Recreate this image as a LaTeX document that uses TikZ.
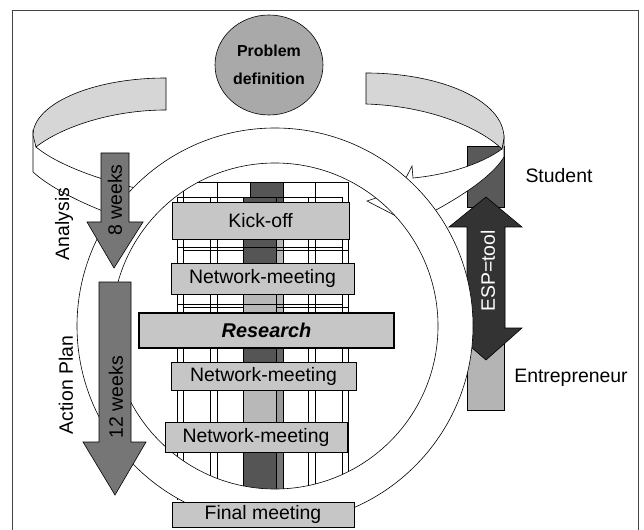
\documentclass[tikz,border=0pt]{standalone}
\usepackage{fontspec}
\setmainfont{Liberation Sans}
\usetikzlibrary{shapes.geometric}
\definecolor{boxgray}{HTML}{C6C6C6}
\definecolor{probgray}{HTML}{A9A9A9}
\definecolor{arrowgray}{HTML}{767676}
\definecolor{espdark}{HTML}{333333}
\definecolor{studentdark}{HTML}{595959}
\definecolor{entrgray}{HTML}{B4B4B4}
\definecolor{ribbongray}{HTML}{D6D6D6}
\definecolor{coldark}{HTML}{555555}
\definecolor{collight}{HTML}{B8B8B8}
\definecolor{colmid}{HTML}{9A9A9A}
\definecolor{bordergray}{HTML}{444444}
\begin{document}
\begin{tikzpicture}[x=1bp,y=-1bp,
  thin line/.style={line width=0.6bp, draw=black},
  boxnode/.style={draw=black, line width=0.6bp, fill=boxgray, inner sep=0pt,
     font=\fontsize{19.5}{22}\selectfont},
  lbl/.style={font=\fontsize{19.5}{22}\selectfont, inner sep=0pt},
  gridline/.style={line width=0.6bp, draw=black},
  weekarrow/.style={draw=black, line width=0.6bp, fill=arrowgray},
  ribbonback/.style={draw=black, line width=0.6bp, fill=ribbongray},
  ribbonfront/.style={draw=black, line width=0.6bp, fill=white}]
\clip (0,0) rectangle (644,530);
% frame
\draw[line width=0.8bp, draw=bordergray] (12,10) rectangle (638,560);
% problem definition
\node[ellipse, draw=black, line width=0.6bp, fill=probgray, minimum width=108bp,
  minimum height=100bp, inner sep=0pt, align=center,
  font=\fontsize{16}{28}\selectfont\bfseries] (prob) at (269,65) {Problem\\definition};
% student / entrepreneur bars
\draw[thin line, fill=studentdark] (467,146) rectangle (504,207);
\draw[thin line, fill=entrgray] (467,320) rectangle (504,410);
% ribbon, left piece
\draw[ribbonfront] (33,130) -- (33,172) .. controls (55,192) and (100,212) .. (140,224)
   -- (150,190) -- (140,189) .. controls (95,179) and (55,163) .. (36,147) -- cycle;
\draw[ribbonback] (166,78) .. controls (90,78) and (33,105) .. (33,135) -- (36,147)
   .. controls (60,128) and (110,110) .. (166,110) -- cycle;
% ribbon, right piece with arrowhead
\draw[ribbonfront] (504,135) -- (504,157) .. controls (490,180) and (450,203) .. (421,218)
   -- (427,232) -- (367,201) .. controls (400,190) .. (412,166) -- (413,178)
   .. controls (445,175) and (480,165) .. (502,149) -- cycle;
\draw[ribbonback] (366,73) .. controls (440,73) and (504,100) .. (504,138) -- (502,149)
   .. controls (480,128) and (430,106) .. (366,104) -- cycle;
% building grid, back layer
\fill[coldark] (250,182) rectangle (283,240);
\fill[collight] (250,240) rectangle (283,330);
\fill[coldark!90] (250,330) rectangle (283,375);
\fill[colmid] (250,375) rectangle (283,437);
\fill[arrowgray] (250,437) rectangle (283,500);
\foreach \x in {183,217,250,283,315,348} \draw[gridline] (\x,182) -- (\x,500);
\draw[gridline] (183,182) -- (348,182);
\draw[gridline] (183,250) -- (348,250);
\draw[gridline] (183,307) -- (348,307);
% building grid, front layer
\fill[coldark] (243,197) rectangle (276,280);
\fill[collight] (243,280) rectangle (276,330);
\fill[coldark] (243,330) rectangle (276,375);
\fill[collight] (243,375) rectangle (276,437);
\fill[coldark] (243,437) rectangle (276,500);
\foreach \x in {177,210,243,276,308,342} \draw[gridline] (\x,197) -- (\x,500);
\draw[gridline] (177,197) -- (342,197);
\draw[gridline] (177,247) -- (342,247);
\draw[gridline] (177,304) -- (342,304);
% ESP double arrow
\draw[thin line, fill=espdark] (486,197) -- (522,227) -- (505,227) -- (505,328) -- (522,328)
   -- (486,360) -- (449,328) -- (467,328) -- (467,227) -- (449,227) -- cycle;
% big ring
\draw[thin line, fill=white, even odd rule] (275,326) circle [radius=198bp]
   (275,326) circle [radius=163bp];
% week arrows
\draw[weekarrow] (101,153) -- (129,153) -- (129,222) -- (143,222) -- (114,268)
   -- (87,222) -- (101,222) -- cycle;
\draw[weekarrow] (99,282) -- (131,282) -- (131,442) -- (146,442) -- (115,495)
   -- (83,442) -- (99,442) -- cycle;
% boxes
\node[boxnode, minimum width=177bp, minimum height=37bp] (kick) at (260.5,220.5) {Kick-off};
\node[boxnode, minimum width=183bp, minimum height=31bp] (nm1) at (262.5,278.5) {Network-meeting};
\node[boxnode, line width=1.6bp, minimum width=255bp, minimum height=35bp,
  font=\fontsize{20}{22}\selectfont\bfseries\itshape] (res) at (266.5,330.5) {Research};
\node[boxnode, minimum width=185bp, minimum height=28bp] (nm2) at (263.5,376) {Network-meeting};
\node[boxnode, minimum width=182bp, minimum height=30bp] (nm3) at (256,437) {Network-meeting};
\node[boxnode, minimum width=182bp, minimum height=25bp] (final) at (263,514.5) {Final meeting};
% labels
\node[lbl, rotate=90] (w8) at (115,200) {8 weeks};
\node[lbl, rotate=90] (w12) at (116,397) {12 weeks};
\node[lbl, rotate=90, text=white] (esp) at (488,271) {ESP=tool};
\node[lbl, rotate=90] (analysis) at (64,224) {Analysis};
\node[lbl, rotate=90] (action) at (66,385) {Action Plan};
\node[lbl] (student) at (559,176) {Student};
\node[lbl] (entre) at (571,378) {Entrepreneur};
\end{tikzpicture}
\end{document}
